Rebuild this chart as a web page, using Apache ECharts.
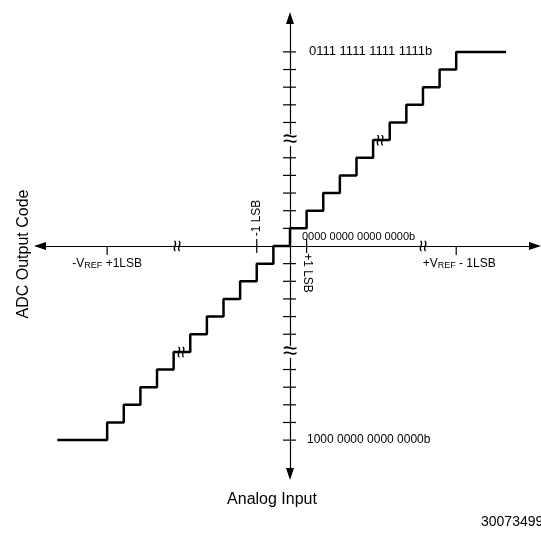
<!DOCTYPE html>
<html><head><meta charset="utf-8">
<script src="https://cdn.jsdelivr.net/npm/echarts@6/dist/echarts.min.js"></script>
<style>html,body{margin:0;padding:0;background:#fff}#c{width:541px;height:537px}</style>
</head><body><div id="c"></div>
<script>
// ---- data ----
const inputLSB   = [-14, -11, -10, -9, -8, -7, -6, -5, -4, -3, -2, -1, 0, 1, 2, 3, 4, 5, 6, 7, 8, 9, 10, 13];
const outputCode = [-11, -10, -9, -8, -7, -6, -5, -4, -3, -2, -1, 0, 1, 2, 3, 4, 5, 6, 7, 8, 9, 10, 11, 11];
const codeTicks  = [-11, -10, -9, -8, -7, -5, -4, -3, -2, -1, 1, 2, 3, 4, 5, 7, 8, 9, 10, 11];
const codeBreaks = [6, -6];
const inputBreaks = [-6.7, 8.1];
const stairBreakCodes = [6, -6];
const codeLevels = [11, 0, -11];
const codeLabels = ['0111 1111 1111 1111b', '0000 0000 0000 0000b', '1000 0000 0000 0000b'];
const refTicks  = [-11, 10];
const refLabels = [['-V', 'REF', ' +1LSB'], ['+V', 'REF', ' - 1LSB']];
const lsbTicks  = [-2, 1];
const lsbLabels = ['-1 LSB', '+1 LSB'];

const FF = '"Liberation Sans", Arial, Helvetica, sans-serif';
const font = s => s + 'px ' + FF;

const chart = echarts.init(document.getElementById('c'), null, {renderer: 'canvas'});

const stairBreaks = stairBreakCodes.map(c => {
  const i = outputCode.indexOf(c);
  return [(inputLSB[i] + inputLSB[i + 1]) / 2, c];
});

function txt(x, y, text, f, align, va, rot, extra) {
  const st = {text: text, font: f, fill: '#000', align: align, verticalAlign: va, textAlign: align, textVerticalAlign: va};
  if (extra) Object.assign(st, extra);
  return {type: 'text', x: x, y: y, rotation: rot || 0, style: st};
}

const option = {
  animation: false,
  backgroundColor: '#fff',
  grid: {left: 40, right: 6, top: 18, bottom: 63, containLabel: false, outerBoundsMode: 'none'},
  xAxis: {
    type: 'value', min: -15.04, max: 14.74,
    axisLine: {onZero: true, lineStyle: {color: '#000', width: 1.2}, symbol: ['triangle', 'triangle'], symbolSize: [8, 12]},
    axisTick: {show: false}, axisLabel: {show: false}, splitLine: {show: false}
  },
  yAxis: {
    type: 'value', min: -12.92, max: 12.92,
    axisLine: {onZero: true, lineStyle: {color: '#000', width: 1.2}, symbol: ['triangle', 'triangle'], symbolSize: [8, 12]},
    axisTick: {show: false}, axisLabel: {show: false}, splitLine: {show: false}
  },
  graphic: [
    {type: 'text', x: 24, y: 254, rotation: Math.PI / 2,
     style: {text: 'ADC Output Code', font: font(16), fill: '#000', align: 'center', verticalAlign: 'middle', textAlign: 'center', textVerticalAlign: 'middle'}},
    {type: 'text', x: 272, y: 500,
     style: {text: 'Analog Input', font: font(16), fill: '#000', align: 'center', verticalAlign: 'middle', textAlign: 'center', textVerticalAlign: 'middle'}},
    {type: 'text', x: 481, y: 522,
     style: {text: '30073499', font: font(14), fill: '#000', align: 'left', verticalAlign: 'middle', textAlign: 'left', textVerticalAlign: 'middle'}}
  ],
  series: [
    { // staircase transfer function
      type: 'line', step: 'end', symbol: 'none', z: 5,
      data: inputLSB.map((x, i) => [x, outputCode[i]]),
      lineStyle: {color: '#000', width: 2.5}
    },
    { // code-axis ticks
      type: 'custom', z: 3, silent: true,
      data: codeTicks.map(v => [0, v]),
      renderItem: (p, api) => {
        const c = api.coord([api.value(0), api.value(1)]);
        return {type: 'line', shape: {x1: c[0] - 7, y1: c[1], x2: c[0] + 6, y2: c[1]}, style: {stroke: '#000', lineWidth: 1.2}};
      }
    },
    { // reference ticks + labels
      type: 'custom', z: 3, silent: true,
      data: refTicks.map(v => [v, 0]),
      renderItem: (p, api) => {
        const c = api.coord([api.value(0), api.value(1)]);
        const L = refLabels[p.dataIndex];
        return {type: 'group', children: [
          {type: 'line', shape: {x1: c[0], y1: c[1], x2: c[0], y2: c[1] + 9}, style: {stroke: '#000', lineWidth: 1.2}},
          txt(c[0] + (p.dataIndex ? 3 : 0), c[1] + 18, '{a|' + L[0] + '}{b|' + L[1] + '}{a|' + L[2] + '}', font(12), 'center', 'middle', 0,
            {rich: {a: {font: font(12), verticalAlign: 'bottom'}, b: {font: font(9), verticalAlign: 'bottom'}}})
        ]};
      }
    },
    { // +/-1 LSB ticks + rotated labels
      type: 'custom', z: 3, silent: true,
      data: lsbTicks.map(v => [v, 0]),
      renderItem: (p, api) => {
        const c = api.coord([api.value(0), api.value(1)]);
        const up = api.value(0) < 0;
        return {type: 'group', children: [
          {type: 'line', shape: {x1: c[0], y1: c[1] - 7, x2: c[0], y2: c[1] + 7}, style: {stroke: '#000', lineWidth: 1.2}},
          up ? txt(c[0], c[1] - 28, lsbLabels[p.dataIndex], font(12), 'center', 'middle', Math.PI / 2)
             : txt(c[0] + 1, c[1] + 27, lsbLabels[p.dataIndex], font(12), 'center', 'middle', -Math.PI / 2)
        ]};
      }
    },
    { // code labels
      type: 'custom', z: 3, silent: true,
      data: codeLevels.map(v => [0, v]),
      renderItem: (p, api) => {
        const c = api.coord([api.value(0), api.value(1)]);
        const i = p.dataIndex;
        const dx = [19, 12, 17][i], dy = [0, -9, 0][i], fs = [13, 11, 12][i];
        return txt(c[0] + dx, c[1] + dy, codeLabels[i], font(fs), 'left', 'middle');
      }
    },
    { // code-axis breaks
      type: 'custom', z: 4, silent: true,
      data: codeBreaks.map(v => [0, v]),
      renderItem: (p, api) => {
        const c = api.coord([api.value(0), api.value(1)]);
        return {type: 'group', children: [
          {type: 'rect', shape: {x: c[0] - 3, y: c[1] - 6, width: 6, height: 12}, style: {fill: '#fff'}},
          txt(c[0], c[1], '\u2248', font(26), 'center', 'middle')
        ]};
      }
    },
    { // input-axis breaks
      type: 'custom', z: 4, silent: true,
      data: inputBreaks.map(v => [v, 0]),
      renderItem: (p, api) => {
        const c = api.coord([api.value(0), api.value(1)]);
        return txt(c[0], c[1], '\u2248', font(21), 'center', 'middle', Math.PI / 2);
      }
    },
    { // staircase breaks
      type: 'custom', z: 6, silent: true,
      data: stairBreaks,
      renderItem: (p, api) => {
        const c = api.coord([api.value(0), api.value(1)]);
        return txt(c[0], c[1], '\u2248', font(21), 'center', 'middle', Math.PI / 2);
      }
    }
  ]
};
chart.setOption(option);
</script>
</body></html>
